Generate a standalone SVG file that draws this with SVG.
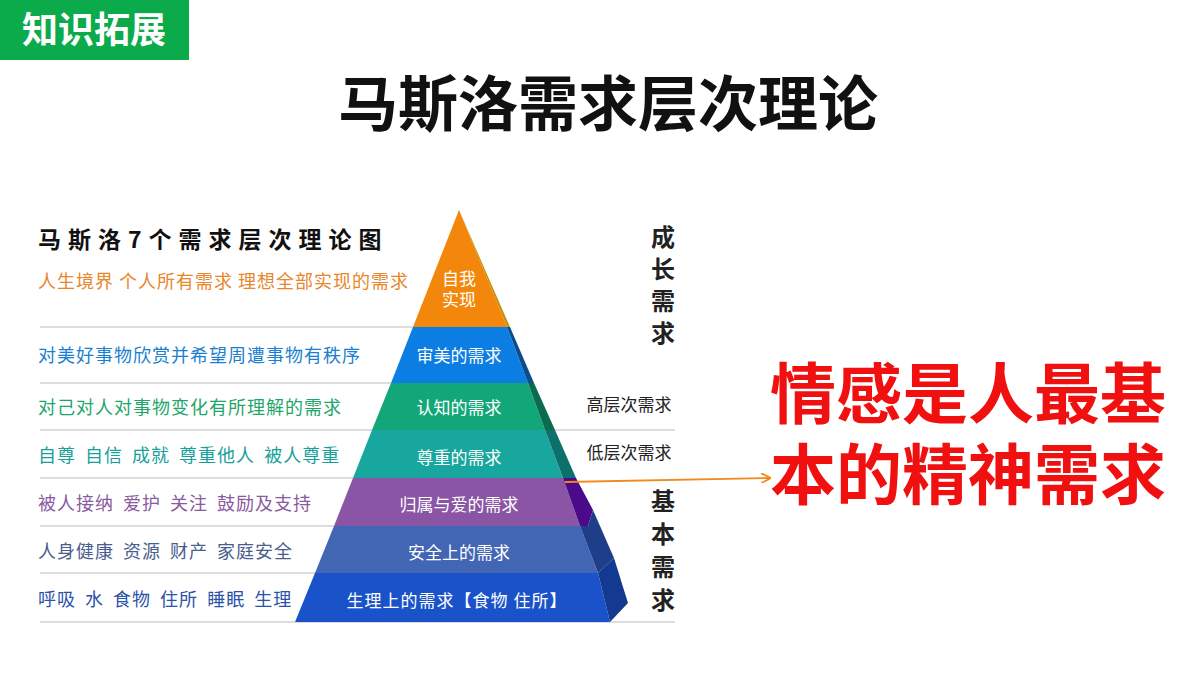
<svg xmlns="http://www.w3.org/2000/svg" width="1200" height="675" viewBox="0 0 1200 675">
<style>
text{font-family:"Noto Sans CJK SC","Liberation Sans",sans-serif}
.l{font-size:18px;letter-spacing:1px}
.p{font-size:17px;fill:#fff;text-anchor:middle}
.v{font-size:24px;font-weight:bold;fill:#222;text-anchor:middle}
.g{stroke:#bbb;stroke-width:1.2}
</style>
<defs><marker id="ar" markerWidth="10" markerHeight="10" refX="9" refY="5" orient="auto" markerUnits="userSpaceOnUse"><path d="M0,0 L10,5 L0,10" fill="none" stroke="#F08A1C" stroke-width="1.8"/></marker></defs>
<rect width="1200" height="675" fill="#fff"/>
<g id="badge"><rect x="0" y="0" width="189" height="60" fill="#0BAA4B"/><text x="94" y="43" font-size="36" font-weight="bold" fill="#fff" text-anchor="middle">知识拓展</text></g>
<text id="title" x="608" y="126" font-size="60" font-weight="bold" fill="#111" text-anchor="middle">马斯洛需求层次理论</text>
<g id="lines">
<line class="g" x1="40" y1="327" x2="413" y2="327"/>
<line class="g" x1="40" y1="383" x2="391" y2="383"/>
<line class="g" x1="40" y1="430" x2="372" y2="430"/>
<line class="g" x1="40" y1="478" x2="353" y2="478"/>
<line class="g" x1="40" y1="526" x2="334" y2="526"/>
<line class="g" x1="40" y1="573" x2="315" y2="573"/>
<line class="g" x1="40" y1="622" x2="675" y2="622"/>
<line class="g" x1="555" y1="430" x2="675" y2="430"/>
</g>
<g id="pyramid">
<polygon points="459,210 507,327 413,327" fill="#F2870C"/>
<polygon points="459,210 510,327 507,327" fill="#C9900F"/>
<polygon points="413,327 507,327 528,383 391,383" fill="#0C7DE2"/>
<polygon points="507,327 510,327 534,383 528,383" fill="#0A4C8C"/>
<polygon points="391,383 528,383 545,430 372,430" fill="#12A779"/>
<polygon points="528,383 534,383 555,430 545,430" fill="#0B6B4E"/>
<polygon points="372,430 545,430 563,478 353,478" fill="#18A79E"/>
<polygon points="545,430 555,430 576,478 563,478" fill="#0E706A"/>
<polygon points="353,478 563,478 580,526 334,526" fill="#8B55A6"/>
<polygon points="563,478 576,478 593,510 588,526 580,526" fill="#4A0A8A"/>
<polygon points="334,526 580,526 598,573 315,573" fill="#4266B4"/>
<polygon points="580,526 588,526 593,510 614,558 598,573" fill="#1F3E8A"/>
<polygon points="315,573 598,573 610,622 295,622" fill="#1A52C9"/>
<polygon points="598,573 614,558 628,603 610,622" fill="#133A90"/>
<text class="p" x="459" y="285">自我</text>
<text class="p" x="459" y="306">实现</text>
<text class="p" x="459" y="362">审美的需求</text>
<text class="p" x="459" y="414">认知的需求</text>
<text class="p" x="459" y="464">尊重的需求</text>
<text class="p" x="459" y="511">归属与爱的需求</text>
<text class="p" x="459" y="559">安全上的需求</text>
<text class="p" x="457" y="607" letter-spacing="1">生理上的需求【食物 住所】</text>
</g>
<g id="left">
<text x="38" y="248" font-size="23" font-weight="bold" fill="#111" letter-spacing="7">马斯洛7个需求层次理论图</text>
<text class="l" x="38" y="288" fill="#E8862A">人生境界 个人所有需求 理想全部实现的需求</text>
<text class="l" x="38" y="362" fill="#1B7FD0">对美好事物欣赏并希望周遭事物有秩序</text>
<text class="l" x="38" y="414" fill="#1DA66A">对己对人对事物变化有所理解的需求</text>
<text class="l" x="38" y="462" fill="#17A09A" word-spacing="4">自尊 自信 成就 尊重他人 被人尊重</text>
<text class="l" x="38" y="510" fill="#8A5AA0" word-spacing="4">被人接纳 爱护 关注 鼓励及支持</text>
<text class="l" x="38" y="558" fill="#4A5E8E" word-spacing="4">人身健康 资源 财产 家庭安全</text>
<text class="l" x="38" y="606" fill="#2A52A8" word-spacing="4">呼吸 水 食物 住所 睡眠 生理</text>
</g>
<g id="right">
<text class="v" x="663" y="246">成</text><text class="v" x="663" y="278">长</text><text class="v" x="663" y="310">需</text><text class="v" x="663" y="342">求</text>
<text class="v" x="663" y="510">基</text><text class="v" x="663" y="543">本</text><text class="v" x="663" y="576">需</text><text class="v" x="663" y="609">求</text>
<text x="629" y="411" font-size="17" fill="#222" text-anchor="middle">高层次需求</text>
<text x="629" y="459" font-size="17" fill="#222" text-anchor="middle">低层次需求</text>
</g>
<g id="connectors"><line x1="565" y1="482" x2="770" y2="478" stroke="#F08A1C" stroke-width="1.8" marker-end="url(#ar)"/></g>
<g id="note" font-size="66" font-weight="bold" fill="#F01010">
<text x="770" y="418">情感是人最基</text>
<text x="770" y="499">本的精神需求</text>
</g>
</svg>
